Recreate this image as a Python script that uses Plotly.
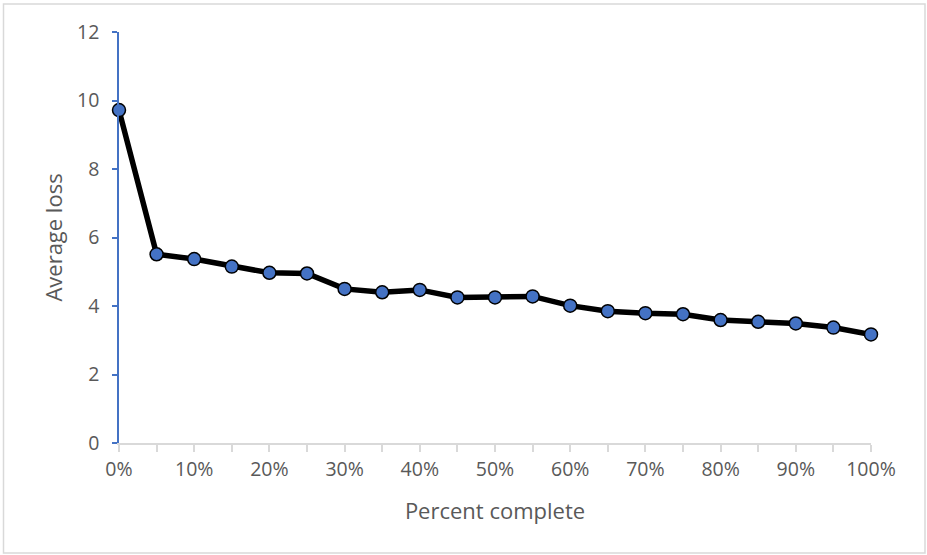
import plotly.graph_objects as go

pct_complete = [0.00, 0.05, 0.10, 0.15, 0.20, 0.25, 0.30, 0.35, 0.40, 0.45, 0.50,
                0.55, 0.60, 0.65, 0.70, 0.75, 0.80, 0.85, 0.90, 0.95, 1.00]
avg_loss = [9.72, 5.51, 5.37, 5.15, 4.97, 4.95, 4.50, 4.40, 4.47, 4.25, 4.25,
            4.28, 4.01, 3.85, 3.79, 3.76, 3.59, 3.54, 3.49, 3.37, 3.17]
x_tick_vals = [0.0, 0.1, 0.2, 0.3, 0.4, 0.5, 0.6, 0.7, 0.8, 0.9, 1.0]
x_tick_text = ["0%", "10%", "20%", "30%", "40%", "50%", "60%", "70%", "80%", "90%", "100%"]
y_tick_vals = [0, 2, 4, 6, 8, 10, 12]

FONT = "Open Sans, Liberation Sans, sans-serif"
GREY = "#595959"
BLUE = "#4472C4"

fig = go.Figure()
fig.add_trace(go.Scatter(
    x=pct_complete, y=avg_loss, mode="lines+markers",
    line=dict(color="black", width=5.5),
    marker=dict(size=13, color=BLUE, line=dict(color="black", width=1.5)),
    cliponaxis=False, showlegend=False,
))

L, R, T, B = 119, 56, 32, 112
W, H = 927, 555
pw, ph = W - L - R, H - T - B

fig.update_layout(
    width=W, height=H,
    margin=dict(l=L, r=R, t=T, b=B),
    paper_bgcolor="white", plot_bgcolor="white",
    font=dict(family=FONT, color=GREY, size=19.5),
    xaxis=dict(
        range=[0, 1], tickvals=x_tick_vals, ticktext=x_tick_text,
        showgrid=False, zeroline=False,
        showline=True, linecolor="#D9D9D9", linewidth=1.5,
        ticks="outside", ticklen=7, tickcolor="#D9D9D9", tickwidth=1.5,
        ticklabelstandoff=1,
        minor=dict(dtick=0.05, tick0=0, ticks="outside", ticklen=7,
                   tickcolor="#D9D9D9", tickwidth=1.5, showgrid=False),
        tickfont=dict(size=19.5, color=GREY),
        title=dict(text="Percent complete", font=dict(size=22, color=GREY), standoff=22),
    ),
    yaxis=dict(
        range=[0, 12], tickvals=y_tick_vals,
        showgrid=False, zeroline=False,
        showline=True, linecolor=BLUE, linewidth=1.5,
        ticks="outside", ticklen=5, tickcolor=BLUE, tickwidth=1.5,
        ticklabelstandoff=9,
        tickfont=dict(size=19.5, color=GREY),
        title=dict(text="Average loss", font=dict(size=22, color=GREY), standoff=8),
    ),
)

# outer chart-area border
fig.add_shape(
    type="rect", xref="paper", yref="paper",
    x0=(3.5 - L) / pw, x1=(925 - L) / pw,
    y0=(H - B - 553) / ph, y1=(H - B - 4) / ph,
    line=dict(color="#D9D9D9", width=1.5), fillcolor="rgba(0,0,0,0)", layer="below",
)

fig.write_html("out.html", config={"displayModeBar": False},
               post_script="document.body.style.margin='0';")
